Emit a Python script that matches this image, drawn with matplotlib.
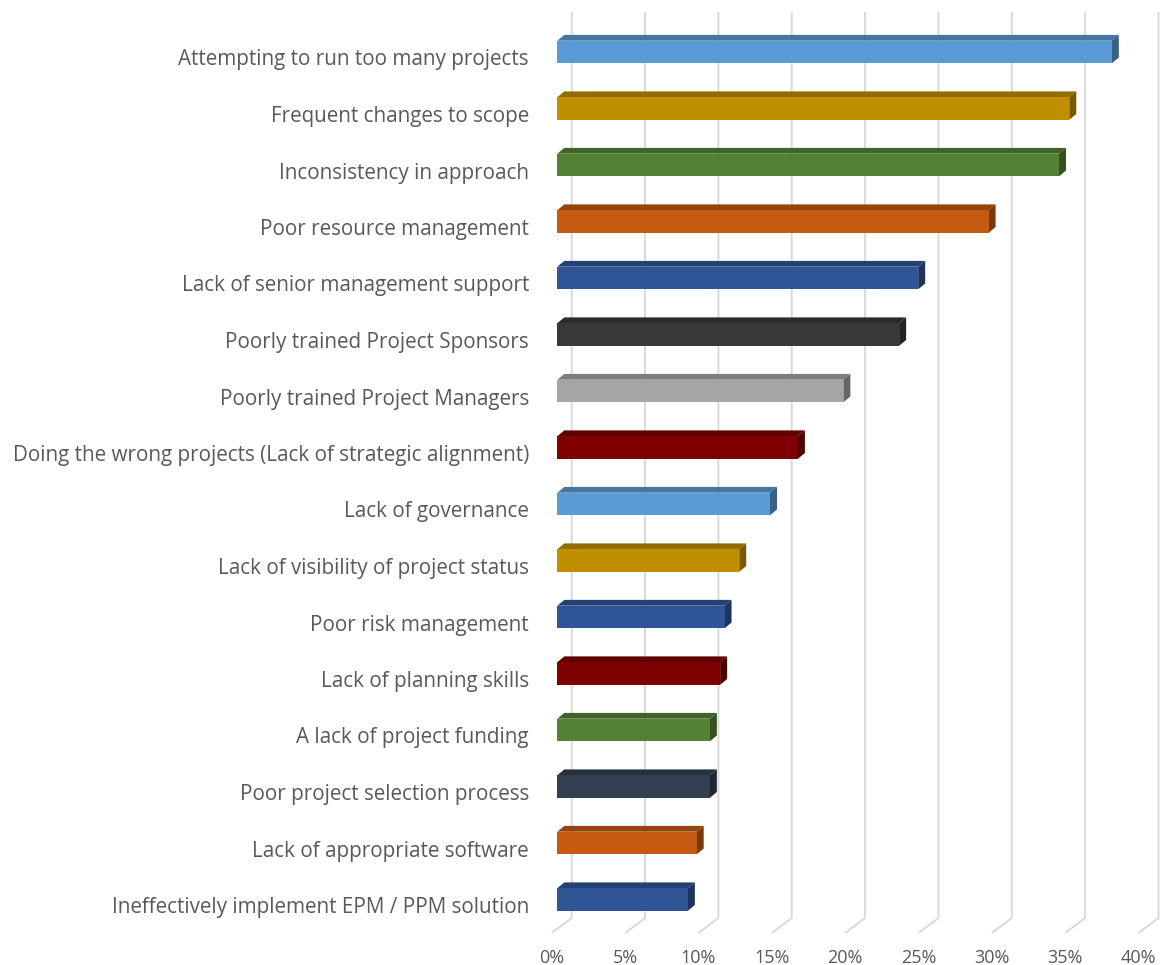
import matplotlib
matplotlib.use("Agg")
import matplotlib.pyplot as plt
import matplotlib.transforms as mtransforms
from matplotlib.patches import Polygon
from matplotlib.colors import to_rgb

# survey answers, top to bottom
labels = [
    "Attempting to run too many projects",
    "Frequent changes to scope",
    "Inconsistency in approach",
    "Poor resource management",
    "Lack of senior management support",
    "Poorly trained Project Sponsors",
    "Poorly trained Project Managers",
    "Doing the wrong projects (Lack of strategic alignment)",
    "Lack of governance",
    "Lack of visibility of project status",
    "Poor risk management",
    "Lack of planning skills",
    "A lack of project funding",
    "Poor project selection process",
    "Lack of appropriate software",
    "Ineffectively implement EPM / PPM solution",
]
values = [37.8, 34.9, 34.2, 29.4, 24.6, 23.3, 19.5, 16.4,
          14.5, 12.4, 11.4, 11.1, 10.4, 10.4, 9.5, 8.9]
colors = ["#5B9BD5", "#BF8F00", "#548235", "#C55A11", "#2F5597", "#383838",
          "#A5A5A5", "#7F0000", "#5B9BD5", "#BF8F00", "#2F5597", "#7F0000",
          "#548235", "#333F50", "#C55A11", "#2F5597"]
ticks = [0, 5, 10, 15, 20, 25, 30, 35, 40]
tick_labels = [f"{t}%" for t in ticks]

W, H = 1161, 965
fig = plt.figure(figsize=(W / 100, H / 100), dpi=100)
ax = fig.add_axes([540 / W, 1 - 933 / H, (W - 540) / W, (933 - 12) / H])

px_per_x = 14.67
px_per_y = 56.5
x0 = -17.3 / px_per_x
x1 = x0 + (W - 540) / px_per_x
y_bot = (933 - 52) / px_per_y
y_top = y_bot - (933 - 12) / px_per_y
ax.set_xlim(x0, x1)
ax.set_ylim(y_bot, y_top)

for s in ax.spines.values():
    s.set_visible(False)
ax.set_xticks([])
ax.set_yticks([])

# back wall grid + floor lines
back_dx = 14.4 / px_per_x
front_dx = -5.6 / px_per_x
floor_y = y_bot - 15 / px_per_y
for t in ticks:
    ax.plot([t + back_dx, t + back_dx, t + front_dx], [y_top, floor_y, y_bot],
            color="#d9d9d9", lw=1.4, zorder=1, solid_capstyle="butt")

# bars with fake depth
h = 0.4
dx = 7 / px_per_x
dy = 5.8 / px_per_y
def shade(c, f):
    r, g, b = to_rgb(c)
    return (r * f, g * f, b * f)

for i, (v, c) in enumerate(zip(values, colors)):
    top = i - h / 2
    bot = i + h / 2
    ax.add_patch(Polygon([(0, top), (v, top), (v + dx, top - dy), (dx, top - dy)],
                         closed=True, facecolor=shade(c, 0.76), edgecolor="none", zorder=2))
    ax.add_patch(Polygon([(v, top), (v, bot), (v + dx, bot - dy), (v + dx, top - dy)],
                         closed=True, facecolor=shade(c, 0.62), edgecolor="none", zorder=2))
    ax.barh(i, v, height=h, left=0, color=c, edgecolor="none", zorder=3)

fam = ["Open Sans", "DejaVu Sans"]

lab_tr = mtransforms.blended_transform_factory(ax.transAxes, ax.transData) + \
    mtransforms.ScaledTranslation(-11 / 100, -8 / 100, fig.dpi_scale_trans)
for i, lab in enumerate(labels):
    ax.text(0, i, lab, transform=lab_tr, ha="right", va="center",
            family=fam, fontsize=14.9, color="#595959")

tick_tr = mtransforms.blended_transform_factory(ax.transData, ax.transAxes) + \
    mtransforms.ScaledTranslation(0, -25 / 100, fig.dpi_scale_trans)
for t, tl in zip(ticks, tick_labels):
    ax.text(t + front_dx, 0, tl, transform=tick_tr, ha="center", va="center",
            family=fam, fontsize=13, color="#595959")

fig.savefig("out.png", dpi=100)
